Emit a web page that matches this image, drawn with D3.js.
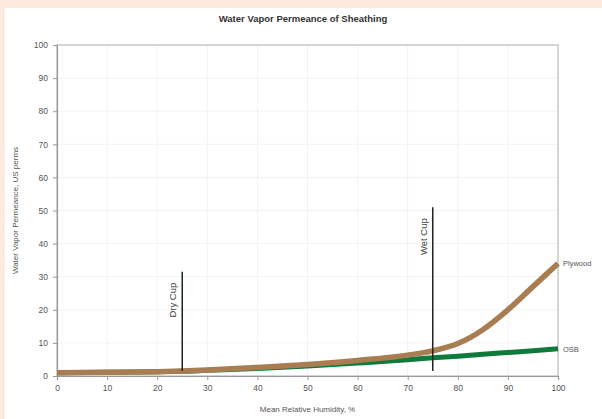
<!DOCTYPE html>
<html>
<head>
<meta charset="utf-8">
<script src="https://cdn.jsdelivr.net/npm/d3@7"></script>
<style>
  body { margin: 0; background: #fdeadf; }
  svg { display: block; font-family: "Liberation Sans", Arial, sans-serif; }
</style>
</head>
<body>
<div id="canvas"></div>
<script>
// humidity points (%) and permeance (US perms)
const rh = [0, 10, 20, 25, 30, 40, 50, 60, 70, 75, 80, 85, 90, 95, 100];
const plywood = [1, 1.1, 1.3, 1.5, 1.8, 2.6, 3.5, 4.7, 6.3, 7.6, 9.8, 14, 20, 27, 34];
const osb = [1, 1.1, 1.3, 1.4, 1.7, 2.3, 3.0, 3.9, 4.9, 5.5, 6.0, 6.6, 7.1, 7.6, 8.2];
const xTicks = [0, 10, 20, 30, 40, 50, 60, 70, 80, 90, 100];
const yTicks = [0, 10, 20, 30, 40, 50, 60, 70, 80, 90, 100];
// test markers: [rh, bottom, top, label]
const cups = [[25, 1.5, 31.5, "Dry Cup"], [75, 1.5, 51, "Wet Cup"]];

const width = 602, height = 419;
const margin = { top: 45, left: 57, bottom: 43, right: 44 };

const svg = d3.select("#canvas").append("svg")
    .attr("width", width).attr("height", height);

svg.append("rect").attr("x", 5).attr("y", 8)
    .attr("width", width - 5).attr("height", height - 8).attr("fill", "#fff");

const x = d3.scaleLinear().domain([0, 100]).range([margin.left, width - margin.right]);
const y = d3.scaleLinear().domain([0, 100]).range([height - margin.bottom, margin.top]);

// faint grid
svg.append("g").selectAll("line").data(xTicks.slice(1, -1)).enter().append("line")
    .attr("x1", d => x(d)).attr("x2", d => x(d))
    .attr("y1", y(0)).attr("y2", y(100))
    .attr("stroke", "#f2f2f2").attr("stroke-width", 1);
svg.append("g").selectAll("line").data(yTicks.slice(1, -1)).enter().append("line")
    .attr("x1", x(0)).attr("x2", x(100))
    .attr("y1", d => y(d)).attr("y2", d => y(d))
    .attr("stroke", "#f2f2f2").attr("stroke-width", 1);

// frame
svg.append("rect").attr("x", x(0)).attr("y", y(100))
    .attr("width", x(100) - x(0)).attr("height", y(0) - y(100))
    .attr("fill", "none").attr("stroke", "#c8c8c8").attr("stroke-width", 1.5);

const xAxis = svg.append("g")
    .attr("transform", `translate(0,${y(0)})`)
    .call(d3.axisBottom(x).tickValues(xTicks).tickSize(4).tickPadding(5));
const yAxis = svg.append("g")
    .attr("transform", `translate(${x(0)},0)`)
    .call(d3.axisLeft(y).tickValues(yTicks).tickSize(4).tickPadding(5));
[xAxis, yAxis].forEach(a => {
    a.select(".domain").attr("stroke", "#999").attr("stroke-width", 1.2);
    a.selectAll(".tick line").attr("stroke", "#999");
    a.selectAll("text").attr("fill", "#555").style("font-size", "8.5px");
});

const line = d3.line().x((d, i) => x(rh[i])).y(d => y(d)).curve(d3.curveMonotoneX);

svg.append("path").datum(osb).attr("d", line)
    .attr("fill", "none").attr("stroke", "#0e7a3c").attr("stroke-width", 5);
svg.append("path").datum(plywood).attr("d", line)
    .attr("fill", "none").attr("stroke", "#a87d52").attr("stroke-width", 5.5);

// cup markers
cups.forEach(c => {
    svg.append("line")
        .attr("x1", x(c[0])).attr("x2", x(c[0]))
        .attr("y1", y(c[1])).attr("y2", y(c[2]))
        .attr("stroke", "#222").attr("stroke-width", 1.5);
    svg.append("text")
        .attr("transform", `translate(${x(c[0]) - 6},${y(c[2]) + 11}) rotate(-90)`)
        .attr("text-anchor", "end")
        .attr("fill", "#444").style("font-size", "9.5px")
        .text(c[3]);
});

// series labels
svg.append("text").attr("x", x(100) + 5).attr("y", y(plywood[plywood.length - 1]) + 3)
    .attr("fill", "#555").style("font-size", "7.5px").text("Plywood");
svg.append("text").attr("x", x(100) + 5).attr("y", y(osb[osb.length - 1]) + 3)
    .attr("fill", "#555").style("font-size", "7.5px").text("OSB");

svg.append("text").attr("x", 303).attr("y", 22).attr("text-anchor", "middle")
    .attr("fill", "#333").style("font-size", "9.5px").style("font-weight", "bold")
    .text("Water Vapor Permeance of Sheathing");

svg.append("text").attr("x", (x(0) + x(100)) / 2).attr("y", 412).attr("text-anchor", "middle")
    .attr("fill", "#555").style("font-size", "8px")
    .text("Mean Relative Humidity, %");

svg.append("text").attr("transform", `translate(18,${(y(0) + y(100)) / 2}) rotate(-90)`)
    .attr("text-anchor", "middle")
    .attr("fill", "#555").style("font-size", "8px")
    .text("Water Vapor Permeance, US perms");
</script>
</body>
</html>
